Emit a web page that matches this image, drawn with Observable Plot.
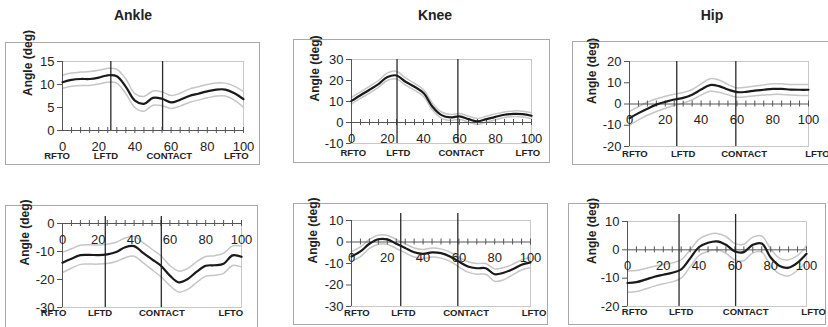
<!DOCTYPE html>
<html><head><meta charset="utf-8">
<script src="https://cdn.jsdelivr.net/npm/d3@7"></script>
<script src="https://cdn.jsdelivr.net/npm/@observablehq/plot@0.6"></script>
<style>
body{margin:0;background:#fff;}
#wrap{position:relative;width:828px;height:327px;overflow:hidden;font-family:"Liberation Sans",Arial,sans-serif;background:#fff;}
.box{position:absolute;border:1px solid #a8a8a8;box-sizing:border-box;}
.title{position:absolute;font-weight:bold;font-size:14px;color:#222;transform:translate(-50%,-50%);white-space:nowrap;}
.panel{position:absolute;}
</style></head><body><div id="wrap"></div>
<script>
// ---------- data ----------
const pct = [0,5,10,15,20,25,30,35,40,45,50,55,60,65,70,75,80,85,90,95,100];
const xTickLabels = [0,20,40,60,80,100];
const crossTicks = [5,10,15,20,25,30,35,40,45,50,55,60,65,70,75,80,85,90,95,100];
const eventNames = ["RFTO","LFTD","CONTACT","LFTO"];
const titles = ["Ankle","Knee","Hip"];
const yLabel = "Angle (deg)";

// Ankle (top)
const ankleTopMean  = [10.5,11.0,11.2,11.2,11.5,12.0,11.8,9.5,6.5,5.8,7.1,6.9,6.1,6.7,7.5,8.0,8.5,8.9,8.9,8.1,6.8];
const ankleTopUpper = [12.0,12.5,12.7,12.8,13.1,13.5,13.3,11.2,8.0,7.4,8.6,8.4,7.6,8.1,9.0,9.5,10.0,10.3,10.3,9.6,8.5];
const ankleTopLower = [9.2,9.6,9.8,9.8,10.1,10.5,10.3,8.0,5.0,4.2,5.5,5.4,4.8,5.3,6.1,6.6,7.1,7.5,7.5,6.6,5.0];
const ankleTopEvents = [26.7,55.3];
const ankleTopEventLabelX = [-3,24,59,96];
const ankleTopYTicks = [0,5,10,15];

// Knee (top)
const kneeTopMean  = [10.3,13.0,15.6,18.3,21.7,22.4,19.4,17.0,14.0,7.5,3.5,2.4,2.9,1.6,0.5,1.6,2.7,3.7,4.1,4.0,3.2];
const kneeTopUpper = [12.0,14.6,17.2,20.0,23.6,24.4,21.2,18.6,15.6,9.1,5.0,3.8,4.3,3.0,1.9,3.0,4.1,5.0,5.5,5.4,4.6];
const kneeTopLower = [8.8,11.5,14.0,16.7,20.1,20.7,17.8,15.4,12.4,6.0,2.0,1.0,1.5,0.2,-0.9,0.2,1.3,2.4,2.8,2.6,1.8];
const kneeTopEvents = [25.3,59.1];
const kneeTopEventLabelX = [1,26,61,98];
const kneeTopYTicks = [-10,0,10,20,30];

// Hip (top)
const hipTopMean  = [-6.7,-4.3,-2.2,-0.3,1.0,2.1,2.9,4.4,6.8,8.9,8.4,6.8,5.6,5.7,6.3,6.7,7.1,7.1,6.8,6.7,6.7];
const hipTopUpper = [-3.5,-1.2,0.8,2.5,3.6,4.6,5.4,6.8,9.5,11.9,11.3,9.2,7.6,7.9,8.5,9.0,9.5,9.5,9.2,9.2,9.2];
const hipTopLower = [-10.0,-7.5,-5.3,-3.5,-2.0,-0.7,0.4,2.0,4.2,6.0,5.5,4.3,3.2,3.4,3.9,4.2,4.5,4.5,4.2,4.0,4.0];
const hipTopEvents = [26.4,59.4];
const hipTopEventLabelX = [3,30,64,105];
const hipTopYTicks = [-20,-10,0,10,20];

// Ankle (bottom)
const ankleBotMean  = [-14.0,-12.6,-11.3,-11.2,-11.3,-11.0,-10.2,-8.5,-8.1,-10.5,-12.8,-15.1,-18.6,-21.0,-19.8,-17.2,-15.1,-14.9,-14.4,-11.4,-11.9];
const ankleBotUpper = [-10.3,-9.0,-7.8,-7.6,-7.7,-7.4,-6.7,-5.2,-4.6,-6.8,-9.2,-11.5,-15.0,-17.0,-16.0,-13.6,-11.8,-11.5,-10.6,-8.0,-8.0];
const ankleBotLower = [-17.5,-16.0,-14.6,-14.5,-14.5,-14.3,-13.6,-12.2,-11.7,-14.0,-16.5,-19.0,-22.2,-24.5,-23.5,-21.0,-18.8,-18.5,-17.8,-15.0,-15.5];
const ankleBotEvents = [23.9,55.2];
const ankleBotEventLabelX = [-5,21,55.5,94];
const ankleBotYTicks = [-30,-20,-10,0];

// Knee (bottom)
const kneeBotMean  = [-6.7,-4.4,-0.8,1.3,1.2,-0.8,-2.8,-4.8,-5.5,-4.8,-5.2,-6.7,-9.1,-11.4,-12.2,-12.2,-15.0,-14.3,-12.7,-10.6,-9.5];
const kneeBotUpper = [-4.5,-2.3,1.2,3.2,3.1,1.2,-0.8,-2.8,-3.5,-2.8,-3.2,-4.7,-7.0,-9.2,-10.0,-10.0,-12.5,-11.9,-10.4,-8.3,-7.2];
const kneeBotLower = [-9.0,-6.8,-3.0,-1.0,-1.1,-3.0,-5.0,-7.0,-7.7,-7.0,-7.5,-9.0,-11.6,-14.0,-15.0,-15.0,-18.3,-17.6,-15.3,-13.0,-12.0];
const kneeBotEvents = [27.5,59.4];
const kneeBotEventLabelX = [3,29,64,102];
const kneeBotYTicks = [-30,-20,-10,0,10];

// Hip (bottom)
const hipBotMean  = [-11.7,-11.4,-10.5,-9.5,-8.8,-8.1,-6.9,-3.0,1.0,2.5,3.0,1.8,-0.6,-0.8,1.8,2.2,-2.7,-5.7,-6.3,-4.5,-1.4];
const hipBotUpper = [-7.5,-7.3,-6.6,-5.8,-5.2,-4.6,-3.5,0.0,3.8,5.3,5.8,4.7,2.2,2.0,4.5,4.9,0.3,-3.0,-3.5,-2.0,1.5];
const hipBotLower = [-15.0,-14.7,-13.8,-12.8,-12.0,-11.3,-10.0,-6.0,-2.0,-0.5,0.0,-1.2,-3.6,-3.8,-1.1,-0.8,-5.7,-8.5,-9.2,-7.2,-4.0];
const hipBotEvents = [28.8,60.4];
const hipBotEventLabelX = [4,30,66,104];
const hipBotYTicks = [-20,-10,0,10];

// ---------- layout (pixels) ----------
const panels = [
  {mean:ankleTopMean, up:ankleTopUpper, lo:ankleTopLower, ev:ankleTopEvents, evX:ankleTopEventLabelX, ticks:ankleTopYTicks,
   box:[5,42,255,123], m:[19,17,35,57], evDy:28, ylDx:-34, extTop:0},
  {mean:kneeTopMean, up:kneeTopUpper, lo:kneeTopLower, ev:kneeTopEvents, evX:kneeTopEventLabelX, ticks:kneeTopYTicks,
   box:[293,39,257,124], m:[20,19,20,58], evDy:12, ylDx:-36, extTop:0},
  {mean:hipTopMean, up:hipTopUpper, lo:hipTopLower, ev:hipTopEvents, evX:hipTopEventLabelX, ticks:hipTopYTicks,
   box:[572,41,258,124], m:[20,22,19,57], evDy:10, ylDx:-37, extTop:0},
  {mean:ankleBotMean, up:ankleBotUpper, lo:ankleBotLower, ev:ankleBotEvents, evX:ankleBotEventLabelX, ticks:ankleBotYTicks,
   box:[5,205,253,125], m:[18,17,23,57], evDy:8, ylDx:-37, extTop:-7},
  {mean:kneeBotMean, up:kneeBotUpper, lo:kneeBotLower, ev:kneeBotEvents, evX:kneeBotEventLabelX, ticks:kneeBotYTicks,
   box:[293,203,255,122], m:[17,18,19,58], evDy:9, ylDx:-38, extTop:-7},
  {mean:hipBotMean, up:hipBotUpper, lo:hipBotLower, ev:hipBotEvents, evX:hipBotEventLabelX, ticks:hipBotYTicks,
   box:[568,203,258,122], m:[18,20,19,59], evDy:8, ylDx:-35, extTop:-7}
];
const titlePos = [[133,15],[435,15],[712,15]];

const wrap = document.getElementById("wrap");
const font = "Liberation Sans, Arial, sans-serif";

titles.forEach((t,i)=>{
  const d = document.createElement("div");
  d.className = "title"; d.textContent = t;
  d.style.left = titlePos[i][0]+"px"; d.style.top = titlePos[i][1]+"px";
  wrap.appendChild(d);
});

panels.forEach(p=>{
  const [bx,by,bw,bh] = p.box;
  const box = document.createElement("div");
  box.className = "box";
  Object.assign(box.style,{left:bx+"px",top:by+"px",width:bw+"px",height:bh+"px"});
  wrap.appendChild(box);

  const rows = pct.map((x,i)=>({x, mean:p.mean[i], up:p.up[i], lo:p.lo[i]}));
  const yDom = [d3.min(p.ticks), d3.max(p.ticks)];
  const chart = Plot.plot({
    width: bw, height: bh,
    marginTop: p.m[0], marginRight: p.m[1], marginBottom: p.m[2], marginLeft: p.m[3],
    x: {domain:[0,100], axis:null},
    y: {domain:yDom, axis:null},
    style: {fontFamily: font, fontSize:"13px", color:"#222", background:"transparent", overflow:"visible"},
    marks: [
      Plot.frame({stroke:"#c8c8c8"}),
      Plot.line(rows, {x:"x", y:"up", stroke:"#c6c6c6", strokeWidth:1.5, curve:"catmull-rom"}),
      Plot.line(rows, {x:"x", y:"lo", stroke:"#c6c6c6", strokeWidth:1.5, curve:"catmull-rom"}),
      Plot.ruleY([0], {stroke:"#555", strokeWidth:1}),
      Plot.ruleX(crossTicks, {x:d=>d, y1:()=>0, y2:()=>0, insetTop:-3, insetBottom:-3, stroke:"#555"}),
      Plot.ruleX([0], {stroke:"#555"}),
      Plot.axisY({ticks:p.ticks, tickSize:5, tickPadding:3, stroke:"#555", fill:"#222", tickFormat:d=>String(d), label:null}),
      Plot.ruleX(p.ev, {x:d=>d, stroke:"#2a2a2a", strokeWidth:1.3, insetTop:p.extTop}),
      Plot.line(rows, {x:"x", y:"mean", stroke:"#1a1a1a", strokeWidth:2.2, curve:"catmull-rom"}),
      Plot.text(xTickLabels, {x:d=>d, y:()=>0, dy:16, text:d=>String(d), fontSize:13, fill:"#222"}),
      Plot.text(eventNames, {x:(d,i)=>p.evX[i], frameAnchor:"bottom", dy:p.evDy, text:d=>d, fontWeight:"bold", fontSize:9.5, fill:"#222"}),
      Plot.text([yLabel], {frameAnchor:"left", rotate:-90, dx:p.ylDx, text:d=>d, fontWeight:"bold", fontSize:12, fill:"#222"})
    ]
  });
  chart.classList.add("panel");
  chart.style.left = bx+"px"; chart.style.top = by+"px";
  chart.style.position = "absolute";
  wrap.appendChild(chart);
});
</script>
</body></html>
